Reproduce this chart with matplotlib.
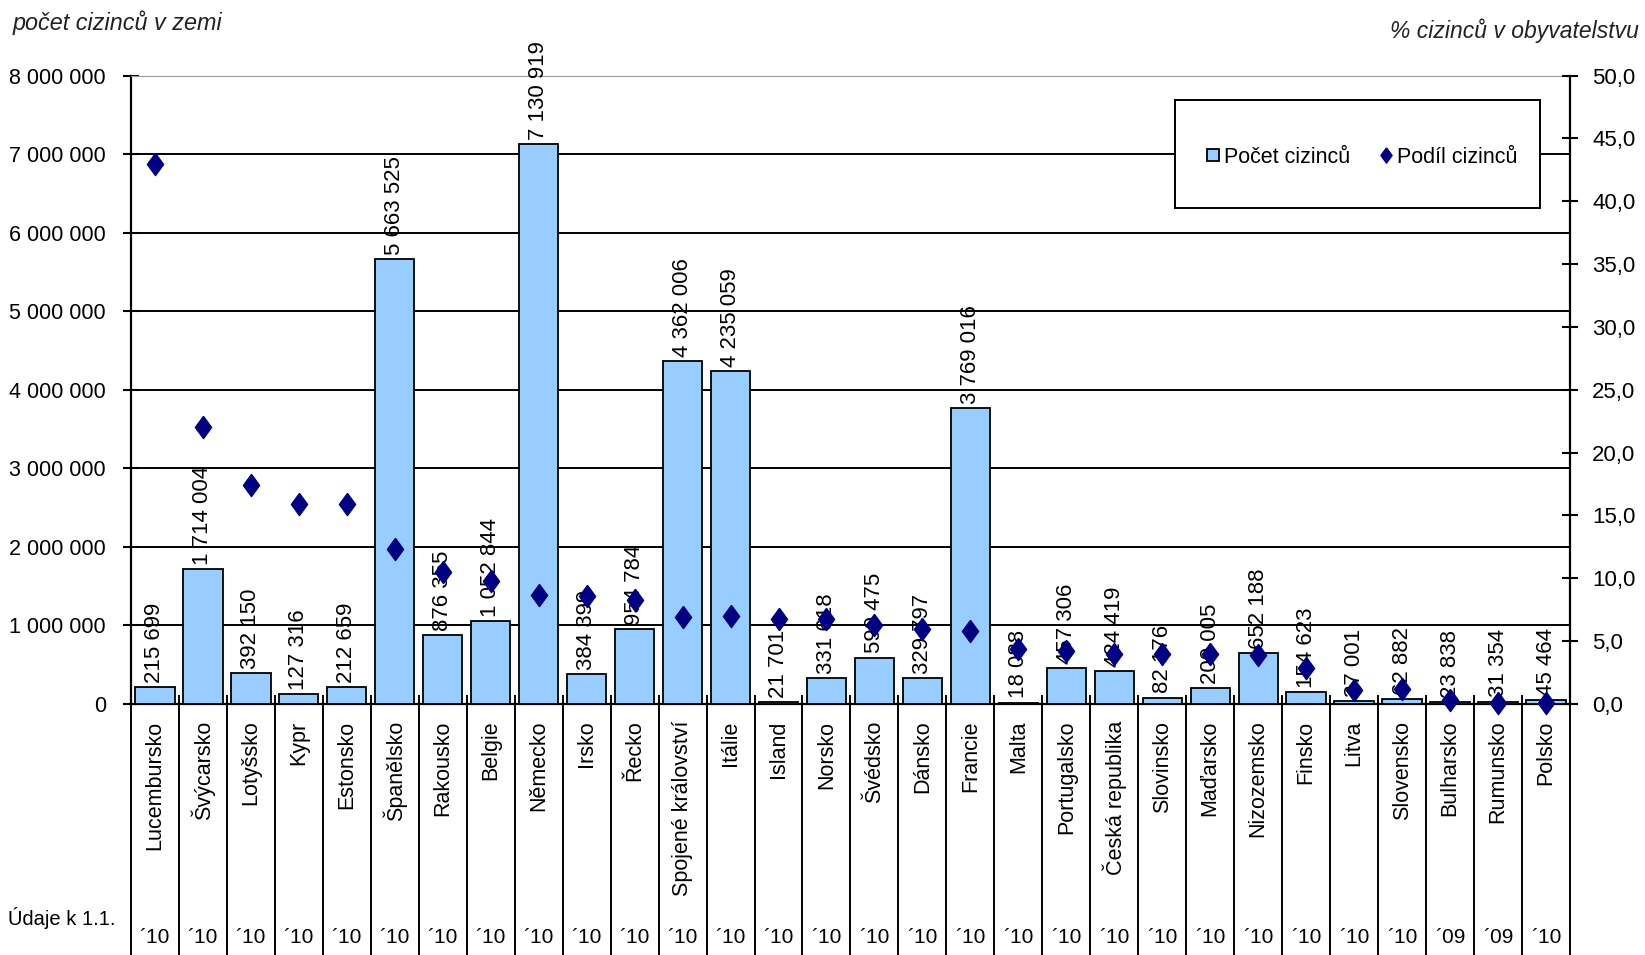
import numpy as np
import matplotlib
matplotlib.use("Agg")
import matplotlib.pyplot as plt
import matplotlib.transforms as mtransforms
from matplotlib.lines import Line2D
from matplotlib.patches import Rectangle
from matplotlib.ticker import FuncFormatter

# Data
zeme = ["Lucembursko", "Švýcarsko", "Lotyšsko", "Kypr", "Estonsko", "Španělsko",
        "Rakousko", "Belgie", "Německo", "Irsko", "Řecko", "Spojené království",
        "Itálie", "Island", "Norsko", "Švédsko", "Dánsko", "Francie", "Malta",
        "Portugalsko", "Česká republika", "Slovinsko", "Maďarsko", "Nizozemsko",
        "Finsko", "Litva", "Slovensko", "Bulharsko", "Rumunsko", "Polsko"]
pocet = [215699, 1714004, 392150, 127316, 212659, 5663525, 876355, 1052844,
         7130919, 384399, 954784, 4362006, 4235059, 21701, 331618, 590475,
         329797, 3769016, 18088, 457306, 424419, 82176, 200005, 652188,
         154623, 37001, 62882, 23838, 31354, 45464]
podil = [43.0, 22.0, 17.4, 15.9, 15.9, 12.3, 10.5, 9.8, 8.7, 8.6, 8.3, 6.9,
         7.0, 6.8, 6.8, 6.3, 6.0, 5.8, 4.4, 4.2, 4.0, 4.0, 4.0, 3.9,
         2.9, 1.1, 1.2, 0.3, 0.1, 0.1]
roky = ["´10"] * 27 + ["´09", "´09", "´10"]

plt.rcParams["font.family"] = ["Liberation Sans", "DejaVu Sans"]
plt.rcParams["font.size"] = 15.5

BAR = "#99CCFF"
NAVY = "#000080"
diamond = [(0, 1), (0.73, 0), (0, -1), (-0.73, 0), (0, 1)]


def mezery(v):
    return f"{int(round(v)):,}".replace(",", " ")


fig = plt.figure(figsize=(16.45, 9.55), dpi=100)
ax = fig.add_axes([0.0796, 0.2628, 0.8748, 0.6581])
x = np.arange(len(zeme))

ax.bar(x, pocet, width=0.82, color=BAR, edgecolor="black", linewidth=1.3, zorder=3)
for i, v in enumerate(pocet):
    ax.annotate(mezery(v), (i, v), xytext=(0, 3), textcoords="offset points",
                rotation=90, ha="center", va="bottom", fontsize=16, zorder=6)

ax.set_xlim(-0.5, len(zeme) - 0.5)
ax.set_ylim(0, 8e6)
ax.set_yticks(np.arange(0, 8e6 + 1, 1e6))
ax.yaxis.set_major_formatter(FuncFormatter(lambda v, p: mezery(v)))
ax.yaxis.grid(True, color="black", lw=1.4)
ax.set_axisbelow(True)
ax.tick_params(axis="y", direction="inout", length=12, width=1.5, pad=12, labelsize=15.5)
ax.set_xticks(x)
ax.set_xticklabels(zeme, rotation=90, va="top")
ax.tick_params(axis="x", length=0, pad=12, labelsize=15.5)
ax.spines["top"].set_color("#999999")
ax.spines["right"].set_visible(False)
ax.spines["left"].set_linewidth(1.6)
ax.spines["bottom"].set_linewidth(1.6)

# separators and years under the axis
trans = mtransforms.blended_transform_factory(ax.transData, ax.transAxes)
for b in np.arange(-0.5, len(zeme), 1):
    ax.add_line(Line2D([b, b], [0.013, -0.41], transform=trans, color="black",
                       lw=1.4, clip_on=False))
for i, r in enumerate(roky):
    ax.text(i, -0.371, r, transform=trans, ha="center", va="center",
            fontsize=15, clip_on=False)

ax2 = ax.twinx()
ax2.plot(x, podil, ls="none", marker=diamond, ms=16, color=NAVY, zorder=5,
         clip_on=False)
ax2.set_ylim(0, 50)
ax2.set_yticks(np.arange(0, 51, 5))
ax2.yaxis.set_major_formatter(FuncFormatter(lambda v, p: f"{v:.1f}".replace(".", ",")))
ax2.tick_params(axis="y", direction="inout", length=12, width=1.5, pad=10, labelsize=16)
for s in ["top", "bottom", "left"]:
    ax2.spines[s].set_visible(False)
ax2.spines["right"].set_linewidth(1.6)

# legend box
ax2.add_patch(Rectangle((0.7255, 0.789), 0.2535, 0.172, transform=ax2.transAxes,
                        facecolor="white", edgecolor="black", lw=1.4, zorder=7))
handles = [Line2D([], [], ls="none", marker="s", ms=9, mfc=BAR, mec="black",
                  mew=1.3, label="Počet cizinců"),
           Line2D([], [], ls="none", marker=diamond, ms=11, color=NAVY,
                  label="Podíl cizinců")]
leg = ax2.legend(handles=handles, loc="center", bbox_to_anchor=(0.8555, 0.87),
                 ncol=2, frameon=False, handlelength=0.6, handletextpad=0.2,
                 columnspacing=1.35, fontsize=15.5)
leg.set_zorder(8)

fig.text(13 / 1645, 1 - 23 / 955, "počet cizinců v zemi", style="italic",
         fontsize=16.8, color="#222222", ha="left", va="center")
fig.text(1639 / 1645, 1 - 31 / 955, "% cizinců v obyvatelstvu", style="italic",
         fontsize=16.5, color="#222222", ha="right", va="center")
fig.text(8 / 1645, 1 - 918 / 955, "Údaje k 1.1.", fontsize=14.5, ha="left", va="center")

fig.savefig("out.png", dpi=100)
